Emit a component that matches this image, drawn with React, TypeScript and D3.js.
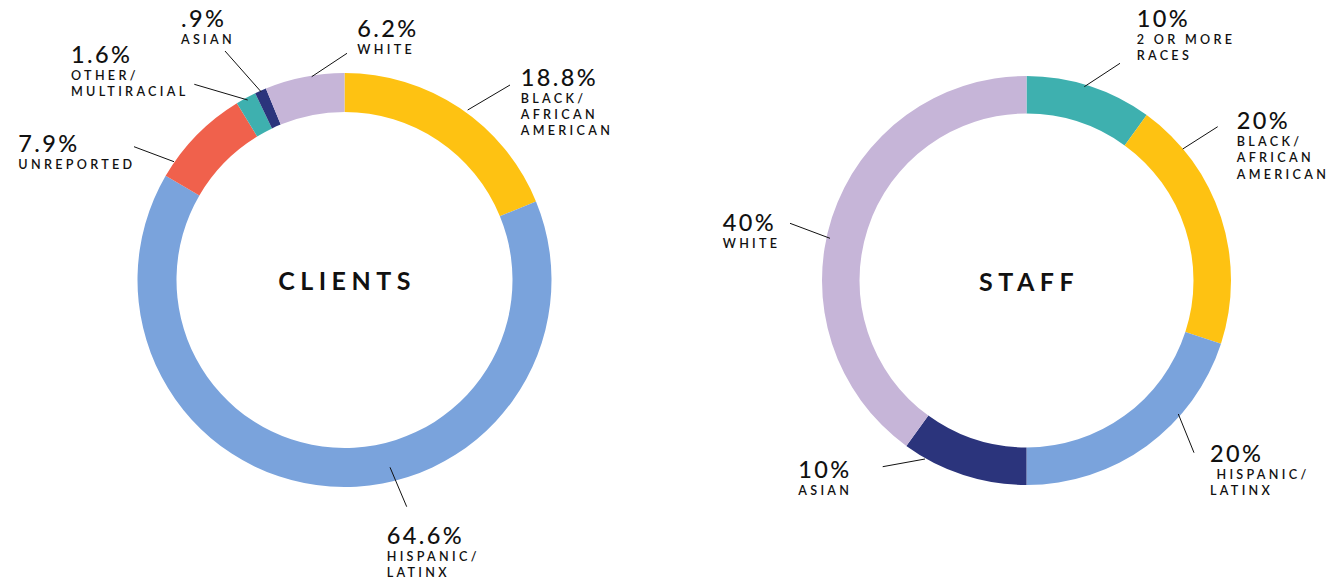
import React from "react";
import * as d3 from "d3";

// ---------- DATA ----------
const clientCategories = ["Black/African American", "Hispanic/Latinx", "Unreported", "Other/Multiracial", "Asian", "White"];
const clientValues = [18.8, 64.6, 7.9, 1.6, 0.9, 6.2];
const clientPctLabels = ["18.8%", "64.6%", "7.9%", "1.6%", ".9%", "6.2%"];
const clientSubLabels = [["BLACK/", "AFRICAN", "AMERICAN"], ["HISPANIC/", "LATINX"], ["UNREPORTED"], ["OTHER/", "MULTIRACIAL"], ["ASIAN"], ["WHITE"]];

const staffCategories = ["2 or more races", "Black/African American", "Hispanic/Latinx", "Asian", "White"];
const staffValues = [10, 20, 20, 10, 40];
const staffPctLabels = ["10%", "20%", "20%", "10%", "40%"];
const staffSubLabels = [["2 OR MORE", "RACES"], ["BLACK/", "AFRICAN", "AMERICAN"], [" HISPANIC/", "LATINX"], ["ASIAN"], ["WHITE"]];

const colorMap: Record<string, string> = {
  "Black/African American": "#FEC212",
  "Hispanic/Latinx": "#7AA3DC",
  "Unreported": "#F0614C",
  "Other/Multiracial": "#3EB0AF",
  "2 or more races": "#3EB0AF",
  "Asian": "#2B347C",
  "White": "#C6B5D8",
};

// ---------- LAYOUT (label placement) ----------
// line: [x1,y1,x2,y2], text: [x, pctBaseline]
const clientLayout = [
  { line: [467.7, 110, 510, 85], text: [520.7, 85.7] },
  { line: [390, 467.3, 406.7, 506.7], text: [386.7, 544] },
  { line: [174, 161.7, 134, 146.7], text: [18.3, 152.3] },
  { line: [247.7, 100, 194.3, 84.3], text: [71, 62.7] },
  { line: [261, 91.7, 225, 51], text: [181, 26.7] },
  { line: [311.7, 76.7, 347, 53.3], text: [357.3, 37.3] },
];
const staffLayout = [
  { line: [1084.3, 86.7, 1120, 63.3], text: [1136.7, 26.7] },
  { line: [1182.7, 149, 1217.7, 126.7], text: [1236.7, 129.3] },
  { line: [1178.3, 414, 1194, 452.7], text: [1210, 462.3] },
  { line: [925, 459, 882.7, 466.7], text: [798.3, 478.3] },
  { line: [830, 238.3, 790, 223.3], text: [722.7, 231] },
];

const FONT = "Lato, 'Noto Sans', sans-serif";

function Donut(props: {
  cx: number; cy: number; rOuter: number; rInner: number; title: string;
  categories: string[]; values: number[]; pcts: string[]; subs: string[][];
  layout: { line: number[]; text: number[] }[];
}) {
  const { cx, cy, rOuter, rInner, title, categories, values, pcts, subs, layout } = props;
  const pie = d3.pie<number>().sort(null).value((d) => d);
  const arcs = pie(values);
  const arcGen = d3.arc<d3.PieArcDatum<number>>().innerRadius(rInner).outerRadius(rOuter);
  return (
    <g>
      <g transform={`translate(${cx},${cy})`}>
        {arcs.map((a, i) => (
          <path key={i} d={arcGen(a) || ""} fill={colorMap[categories[i]]} />
        ))}
        <text x={2.5} y={10} textAnchor="middle" fontFamily={FONT} fontWeight={700}
          fontSize={25} letterSpacing={5.5} fill="#111">{title}</text>
      </g>
      {layout.map((l, i) => (
        <g key={i}>
          <line x1={l.line[0]} y1={l.line[1]} x2={l.line[2]} y2={l.line[3]} stroke="#111" strokeWidth={1} />
          <text x={l.text[0]} y={l.text[1]} fontFamily={FONT} fontWeight={500} fontSize={23.5}
            letterSpacing={2.4} fill="#111">{pcts[i]}</text>
          {subs[i].map((s, j) => (
            <text key={j} x={l.text[0]} y={l.text[1] + 16.8 + j * 16.3} fontFamily={FONT}
              fontWeight={600} fontSize={12.6} letterSpacing={3.3} fill="#111"
              style={{ whiteSpace: "pre" }}>{s}</text>
          ))}
        </g>
      ))}
    </g>
  );
}

export default function App() {
  return (
    <svg width={1332} height={582} style={{ position: "absolute", left: 0, top: 0, background: "#fff" }}>
      <rect width={1332} height={582} fill="#fff" />
      <Donut cx={344.5} cy={280} rOuter={207} rInner={168} title="CLIENTS"
        categories={clientCategories} values={clientValues} pcts={clientPctLabels}
        subs={clientSubLabels} layout={clientLayout} />
      <Donut cx={1026.5} cy={280.5} rOuter={204.5} rInner={167} title="STAFF"
        categories={staffCategories} values={staffValues} pcts={staffPctLabels}
        subs={staffSubLabels} layout={staffLayout} />
    </svg>
  );
}
